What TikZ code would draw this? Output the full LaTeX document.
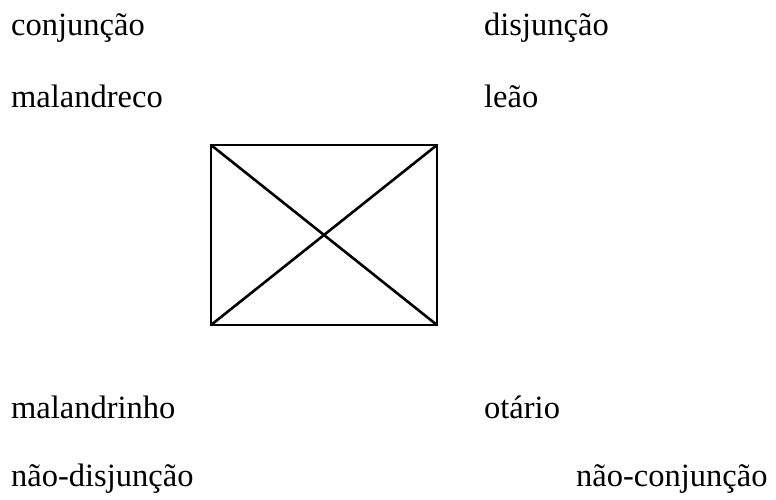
\documentclass[tikz,border=0pt]{standalone}
\usepackage{fontspec}
\setmainfont{Liberation Serif}
\begin{document}
\begin{tikzpicture}[x=1pt,y=1pt,
  lbl/.style={anchor=base west,inner sep=0pt,font=\fontsize{32.5}{36}\selectfont},
  frame/.style={line width=2.6pt,line cap=round,line join=round}]
\useasboundingbox[fill=white] (0,0) rectangle (776,500);
\node[lbl] (conj) at (11,464) {conjunção};
\node[lbl] (disj) at (484,464) {disjunção};
\node[lbl] (malreco) at (11,392) {malandreco};
\node[lbl] (leao) at (484,392) {leão};
\node[lbl] (malrinho) at (11,81) {malandrinho};
\node[lbl] (otario) at (484,81) {otário};
\node[lbl] (ndisj) at (11,13) {não-disjunção};
\node[lbl] (nconj) at (576,13) {não-conjunção};
\coordinate (tl) at (211,355);
\coordinate (tr) at (437,355);
\coordinate (bl) at (211,175);
\coordinate (br) at (437,175);
\draw[frame] (tl) -- (tr) -- (br) -- (bl) -- cycle;
\draw[frame] (tl) -- (br);
\draw[frame] (bl) -- (tr);
\end{tikzpicture}
\end{document}
